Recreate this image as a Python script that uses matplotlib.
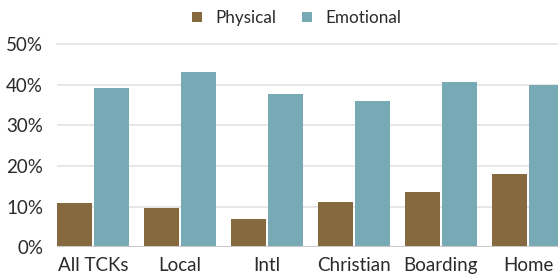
import numpy as np
import matplotlib.pyplot as plt
from matplotlib.ticker import FuncFormatter

categories = ["All TCKs", "Local", "Intl", "Christian", "Boarding", "Home"]
physical = [10.8, 9.6, 6.9, 11.1, 13.7, 18.0]
emotional = [39.3, 43.2, 37.8, 36.1, 40.8, 40.0]

plt.rcParams['font.family'] = ['Lato', 'DejaVu Sans']

fig = plt.figure(figsize=(5.58, 2.77), dpi=100)
ax = fig.add_axes([0.102, 0.108, 0.898, 0.732])

x = np.arange(len(categories))
w = 0.40
gap = 0.015
ax.bar(x - w / 2 - gap, physical, w, color="#86693F", label="Physical", zorder=3)
ax.bar(x + w / 2 + gap, emotional, w, color="#77AAB4", label="Emotional", zorder=3)

ax.set_xlim(-0.415, 5.345)
ax.set_ylim(0, 50)
ax.set_yticks(np.arange(0, 51, 10))
ax.yaxis.set_major_formatter(FuncFormatter(lambda v, p: "%d%%" % v))
ax.set_xticks(x)
ax.set_xticklabels(categories)

ax.grid(axis="y", color="#e3e3e3", linewidth=1.2, zorder=0)
ax.axhline(0, color="#c8c8c8", linewidth=1.5, zorder=4)
for s in ax.spines.values():
    s.set_visible(False)
ax.tick_params(length=0, labelsize=13.5, colors="#2a2a2a")
ax.tick_params(axis="y", pad=10)
ax.tick_params(axis="x", pad=7)
for lbl in ax.get_yticklabels() + ax.get_xticklabels():
    lbl.set_clip_on(False)
ax.yaxis.get_gridlines()[-1].set_clip_on(False)

fig.legend(loc="upper center", bbox_to_anchor=(0.532, 1.02), ncol=2, frameon=False,
           fontsize=12.3, handlelength=0.55, handleheight=0.55, handletextpad=0.8,
           columnspacing=1.5, labelcolor="#2a2a2a")

fig.savefig("out.png", dpi=100)
